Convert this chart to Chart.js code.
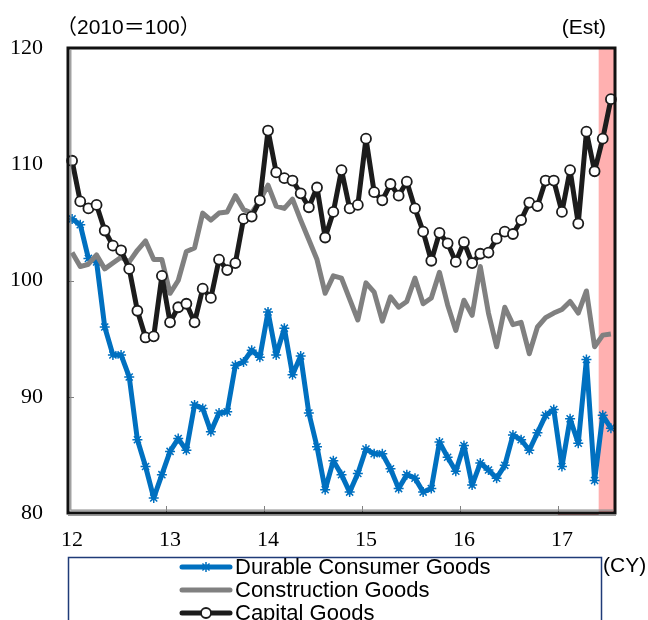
<!DOCTYPE html>
<html>
<head>
<meta charset="utf-8">
<script src="https://cdn.jsdelivr.net/npm/chart.js@4.4.0/dist/chart.umd.min.js"></script>
<style>
  html, body { margin: 0; padding: 0; background: #fff; }
  canvas { display: block; }
</style>
</head>
<body>
<canvas id="chart" width="648" height="620"></canvas>
<script>
// Calendar-year tick labels (one per January)
const years = ['12', '13', '14', '15', '16', '17'];
const lastYearMonths = 7; // data run through July of the last year

// Monthly categories, Jan 2012 .. Jul 2017
const months = [];
years.forEach((y, yi) => {
  const n = yi === years.length - 1 ? lastYearMonths : 12;
  for (let m = 1; m <= n; m++) months.push('20' + y + '-' + String(m).padStart(2, '0'));
});

// Index of the first estimated month (shaded)
const estimateStart = 65;

// Production indices (2010 = 100)
const durable = [
  105.3, 104.8, 101.9, 101.6, 96.0, 93.6, 93.6, 91.7, 86.3, 84.0, 81.3, 83.3,
  85.3, 86.4, 85.4, 89.3, 89.0, 87.0, 88.6, 88.7, 92.7, 93.0, 94.0, 93.4,
  97.3, 93.6, 95.9, 91.9, 93.5, 88.6, 85.7, 82.0, 84.5, 83.3, 81.8, 83.4,
  85.5, 85.1, 85.1, 83.8, 82.1, 83.3, 83.0, 81.8, 82.1, 86.1, 84.8, 83.6,
  85.8, 82.4, 84.3, 83.7, 83.0, 84.1, 86.7, 86.3, 85.4, 86.9, 88.4, 88.9,
  84.0, 88.1, 86.0, 93.2, 82.8, 88.4, 87.3
];
const construction = [
  102.4, 101.2, 101.4, 102.2, 101.0, 101.5, 102.0, 101.6, 102.6, 103.4, 101.8, 101.8,
  98.9, 100.0, 102.5, 102.8, 105.8, 105.2, 105.8, 105.9, 107.3, 106.1, 105.8, 106.9,
  108.2, 106.4, 106.2, 107.0, 105.2, 103.5, 101.8, 98.9, 100.4, 100.2, 98.4, 96.6,
  99.8, 99.0, 96.5, 98.6, 97.7, 98.2, 100.2, 98.0, 98.5, 100.7, 97.9, 95.7,
  98.3, 97.0, 101.2, 97.2, 94.3, 97.7, 96.2, 96.4, 93.7, 96.0, 96.8, 97.2,
  97.5, 98.2, 97.2, 99.1, 94.3, 95.3, 95.4
];
const capital = [
  110.3, 106.8, 106.2, 106.5, 104.3, 103.0, 102.6, 101.0, 97.4, 95.1, 95.2, 100.4,
  96.4, 97.7, 98.0, 96.4, 99.3, 98.5, 101.8, 100.9, 101.5, 105.3, 105.5, 106.9,
  112.9, 109.3, 108.8, 108.6, 107.5, 106.3, 108.0, 103.7, 105.9, 109.5, 106.2, 106.5,
  112.2, 107.6, 106.9, 108.3, 107.3, 108.5, 106.2, 104.2, 101.7, 104.1, 103.2, 101.6,
  103.3, 101.5, 102.3, 102.4, 103.6, 104.2, 104.0, 105.2, 106.7, 106.4, 108.6, 108.6,
  105.9, 109.5, 104.9, 112.8, 109.4, 112.2, 115.6
];

const yTicks = [80, 90, 100, 110, 120];

const BLUE = '#0070C0', GRAY = '#808080', BLACK = '#1c1c1c';
const SERIF = '"Liberation Serif", "DejaVu Serif", serif';
const SANS = '"Liberation Sans", Arial, sans-serif';

// Boundary pixel between category i-1 and i
function boundary(xs, i) {
  return (xs.getPixelForValue(i - 1) + xs.getPixelForValue(i)) / 2;
}

// Pink band over the estimated months
const estimateBand = {
  id: 'estimateBand',
  beforeDatasetsDraw(chart) {
    const { ctx, chartArea: a, scales: { x } } = chart;
    const x0 = boundary(x, estimateStart);
    ctx.save();
    ctx.fillStyle = '#FFB0B0';
    ctx.fillRect(x0, a.top, a.right - x0, a.bottom - a.top);
    // thin reddish strip along the base for the current year
    const y0 = boundary(x, (years.length - 1) * 12);
    ctx.strokeStyle = '#C89090';
    ctx.lineWidth = 2;
    ctx.beginPath();
    ctx.moveTo(y0, a.bottom + 1);
    ctx.lineTo(x0, a.bottom + 1);
    ctx.stroke();
    ctx.restore();
  }
};

// Plot frame and inward tick marks
const frame = {
  id: 'frame',
  afterDatasetsDraw(chart) {
    const { ctx, chartArea: a, scales: { x, y } } = chart;
    ctx.save();
    ctx.strokeStyle = GRAY;
    ctx.lineWidth = 1;
    yTicks.slice(1, -1).forEach(v => {
      const py = Math.round(y.getPixelForValue(v)) + 0.5;
      ctx.beginPath();
      ctx.moveTo(a.left, py);
      ctx.lineTo(a.left + 6, py);
      ctx.stroke();
    });
    for (let i = 12; i < months.length; i += 12) {
      const px = Math.round(boundary(x, i)) + 0.5;
      ctx.beginPath();
      ctx.moveTo(px, a.bottom);
      ctx.lineTo(px, a.bottom - 7);
      ctx.stroke();
    }
    // inner grey rule on left and bottom
    ctx.strokeStyle = '#8a8a8a';
    ctx.lineWidth = 1.2;
    ctx.beginPath();
    ctx.moveTo(a.left + 2.8, a.top + 2);
    ctx.lineTo(a.left + 2.8, a.bottom - 2.8);
    ctx.lineTo(a.right - 2, a.bottom - 2.8);
    ctx.stroke();
    // outer black frame
    ctx.strokeStyle = '#111';
    ctx.lineWidth = 3;
    ctx.strokeRect(a.left, a.top, a.right - a.left, a.bottom - a.top);
    // grey hairline under the base
    ctx.strokeStyle = '#9a9a9a';
    ctx.lineWidth = 1;
    ctx.beginPath();
    ctx.moveTo(a.left, a.bottom + 2.5);
    ctx.lineTo(a.right + 1, a.bottom + 2.5);
    ctx.stroke();
    ctx.restore();
  }
};

// Unit notes, legend box and axis note
const notes = {
  id: 'notes',
  afterDraw(chart) {
    const { ctx, chartArea: a } = chart;
    ctx.save();
    ctx.fillStyle = '#000';
    ctx.textBaseline = 'middle';
    ctx.font = '21px "Liberation Sans", "Noto Sans CJK JP", sans-serif';
    ctx.textAlign = 'left';
    ctx.fillText('（2010＝100）', 56, 28);
    ctx.textAlign = 'right';
    ctx.font = '21px ' + SANS;
    ctx.fillText('(Est)', 606, 28);
    ctx.textAlign = 'left';
    ctx.font = '21px ' + SANS;
    ctx.fillText('(CY)', 603, 566);

    // legend frame
    ctx.strokeStyle = '#1F3B78';
    ctx.lineWidth = 1.5;
    ctx.strokeRect(a.left + 0.5, 557.5, 601 - a.left, 80);

    const rows = [567, 590, 613];
    const order = [2, 1, 0]; // Durable, Construction, Capital
    order.forEach((di, r) => {
      const ds = chart.data.datasets[di];
      const yy = rows[r];
      ctx.strokeStyle = ds.borderColor;
      ctx.lineWidth = 5;
      ctx.lineCap = 'round';
      ctx.beginPath();
      ctx.moveTo(182, yy);
      ctx.lineTo(230, yy);
      ctx.stroke();
      if (ds.pointRadius > 0) {
        ctx.fillStyle = ds.pointBackgroundColor;
        ctx.strokeStyle = ds.pointBorderColor;
        ctx.lineWidth = ds.pointBorderWidth;
        ctx.lineCap = 'butt';
        Chart.helpers.drawPoint(ctx, {
          pointStyle: ds.pointStyle,
          radius: ds.pointRadius,
          borderWidth: ds.pointBorderWidth,
          rotation: 0
        }, 206, yy);
      }
      ctx.fillStyle = '#000';
      ctx.font = '22px ' + SANS;
      ctx.textAlign = 'left';
      ctx.fillText(ds.label, 235, yy + 1);
    });
    ctx.restore();
  }
};

new Chart(document.getElementById('chart'), {
  type: 'line',
  data: {
    labels: months,
    datasets: [
      {
        label: 'Capital Goods', data: capital, order: 0,
        borderColor: BLACK, borderWidth: 5, borderJoinStyle: 'round',
        pointStyle: 'circle', pointRadius: 5, pointBorderWidth: 1.8,
        pointBackgroundColor: '#fff', pointBorderColor: BLACK
      },
      {
        label: 'Construction Goods', data: construction, order: 1,
        borderColor: GRAY, borderWidth: 5, borderJoinStyle: 'round', pointRadius: 0
      },
      {
        label: 'Durable Consumer Goods', data: durable, order: 2,
        borderColor: BLUE, borderWidth: 5, borderJoinStyle: 'round',
        pointStyle: 'star', pointRadius: 5, pointBorderWidth: 1.5,
        pointBackgroundColor: BLUE, pointBorderColor: BLUE
      }
    ]
  },
  options: {
    responsive: false,
    animation: false,
    events: [],
    layout: { padding: { top: 48, right: 33, left: 0, bottom: 0 } },
    elements: { line: { tension: 0 } },
    plugins: { legend: { display: false }, tooltip: { enabled: false } },
    scales: {
      x: {
        type: 'category',
        offset: true,
        grid: { display: false },
        border: { display: false },
        ticks: {
          autoSkip: false, maxRotation: 0, minRotation: 0, padding: 6,
          color: '#000', font: { family: SERIF, size: 22 },
          callback: (v, i) => (i % 12 === 0 ? years[i / 12] : '')
        },
        afterFit: s => { s.height = 107; }
      },
      y: {
        min: 80, max: 120,
        afterBuildTicks: s => { s.ticks = yTicks.map(v => ({ value: v })); },
        grid: { display: false },
        border: { display: false },
        ticks: { padding: 17, color: '#000', font: { family: SERIF, size: 22 } },
        afterFit: s => { s.width = 68; }
      }
    }
  },
  plugins: [estimateBand, frame, notes]
});
</script>
</body>
</html>
